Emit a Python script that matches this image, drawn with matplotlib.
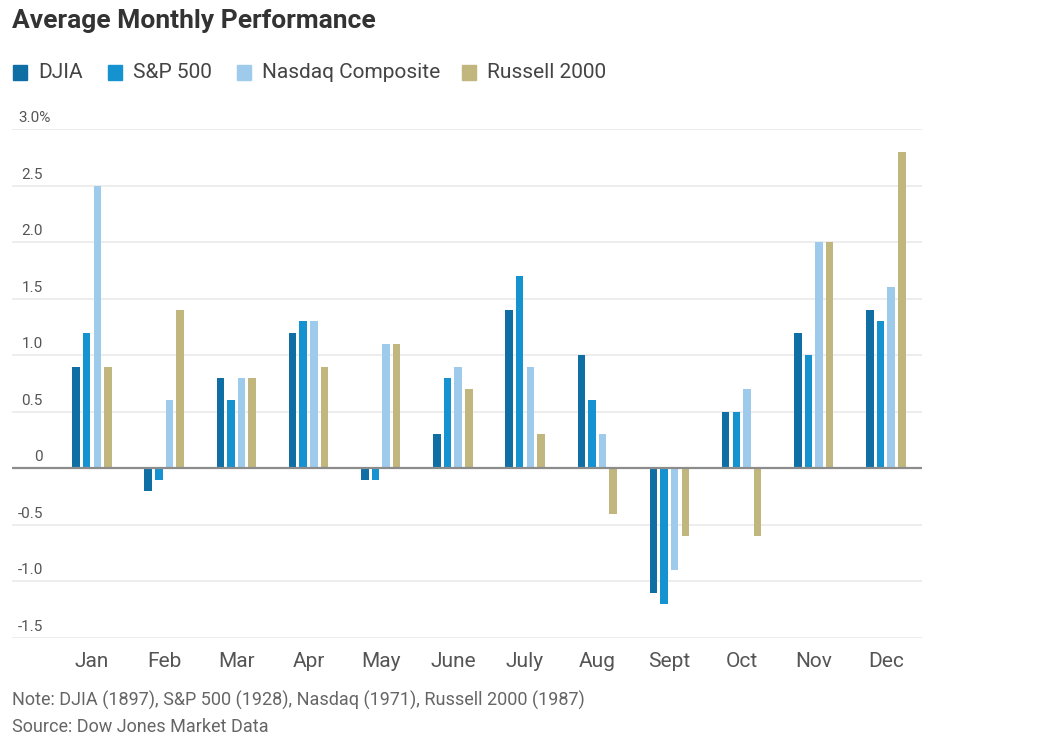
import numpy as np
import matplotlib
matplotlib.use("AGG")
import matplotlib.pyplot as plt
from matplotlib.patches import Rectangle

months = ['Jan', 'Feb', 'Mar', 'Apr', 'May', 'June', 'July', 'Aug', 'Sept', 'Oct', 'Nov', 'Dec']
series = ['DJIA', 'S&P 500', 'Nasdaq Composite', 'Russell 2000']
djia = [0.9, -0.2, 0.8, 1.2, -0.1, 0.3, 1.4, 1.0, -1.1, 0.5, 1.2, 1.4]
sp500 = [1.2, -0.1, 0.6, 1.3, -0.1, 0.8, 1.7, 0.6, -1.2, 0.5, 1.0, 1.3]
nasdaq = [2.5, 0.6, 0.8, 1.3, 1.1, 0.9, 0.9, 0.3, -0.9, 0.7, 2.0, 1.6]
russell = [0.9, 1.4, 0.8, 0.9, 1.1, 0.7, 0.3, -0.4, -0.6, -0.6, 2.0, 2.8]
yticks = [3.0, 2.5, 2.0, 1.5, 1.0, 0.5, 0, -0.5, -1.0, -1.5]
ylabels = ['3.0%', '2.5', '2.0', '1.5', '1.0', '0.5', '0', '-0.5', '-1.0', '-1.5']

colours = ['#0f6fa4', '#1592d0', '#9ecbeb', '#c0b67e']
fam = ['Roboto', 'DejaVu Sans']

W, H = 1059, 749
fig = plt.figure(figsize=(W / 100, H / 100), dpi=100)
fig.patch.set_facecolor('white')

# axes box in pixels: x 12..922, y 129..638
ax = fig.add_axes([12 / W, 1 - 638 / H, 910 / W, 509 / H])
ax.set_xlim(-1.108, 11.5)
ax.set_ylim(-1.5, 3.0)
for s in ax.spines.values():
    s.set_visible(False)

x = np.arange(len(months))
step, width = 0.147, 0.104
for i, vals in enumerate([djia, sp500, nasdaq, russell]):
    ax.bar(x + (i - 1.5) * step, vals, width=width, color=colours[i], zorder=3)

for v in yticks:
    if v == 0:
        ax.axhline(0, color='#8c8c8c', lw=1.6, zorder=4)
    else:
        ax.axhline(v, color='#ececec', lw=1.3, zorder=1)

ytr = ax.get_yaxis_transform()
for v, lab in zip(yticks, ylabels):
    if lab.endswith('%'):
        ax.text(0.0066, v + 0.035, lab, transform=ytr, ha='left', va='bottom',
                fontsize=11, color='#555555', family=fam)
    else:
        ax.text(0.034, v + 0.035, lab, transform=ytr, ha='right', va='bottom',
                fontsize=11, color='#555555', family=fam)

ax.set_yticks([])
ax.set_xticks(x)
ax.set_xticklabels(months, fontsize=15, color='#555555', family=fam)
ax.tick_params(axis='x', length=0, pad=10)

fig.text(12 / W, 1 - 21 / H, 'Average Monthly Performance', ha='left', va='center',
         fontsize=19, fontweight='bold', color='#333333', family=fam)

# legend
leg_x = [13, 108, 237, 462]
for name, c, lx in zip(series, colours, leg_x):
    fig.patches.append(Rectangle((lx / W, 1 - 80 / H), 14 / W, 15 / H,
                                 transform=fig.transFigure, color=c))
    fig.text((lx + 25) / W, 1 - 72 / H, name, ha='left', va='center',
             fontsize=15, color='#444444', family=fam)

fig.text(12 / W, 1 - 700 / H, 'Note: DJIA (1897), S&P 500 (1928), Nasdaq (1971), Russell 2000 (1987)',
         ha='left', va='center', fontsize=13, color='#666666', family=fam)
fig.text(12 / W, 1 - 727 / H, 'Source: Dow Jones Market Data',
         ha='left', va='center', fontsize=13, color='#666666', family=fam)

fig.savefig('out.png', dpi=100, facecolor='white')
